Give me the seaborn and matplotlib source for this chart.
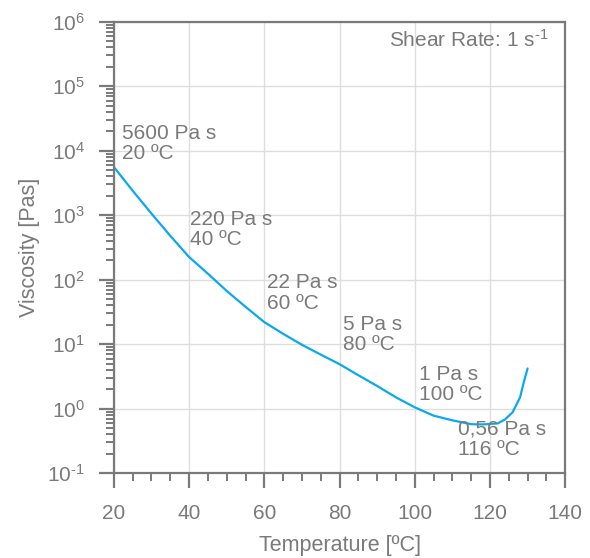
import numpy as np
import pandas as pd
import seaborn as sns
import matplotlib.pyplot as plt
from matplotlib.ticker import MultipleLocator, LogLocator, NullFormatter, FuncFormatter

# viscosity curve (shear rate 1 1/s)
temperature = [20, 25, 30, 35, 40, 45, 50, 55, 60, 65, 70, 75, 80, 85, 90, 95,
               100, 105, 110, 115, 118, 120, 122, 124, 126, 128, 129, 130]
viscosity = [5600, 2400, 1060, 480, 225, 124, 67, 38, 22, 14.5, 9.8, 6.9, 4.9,
             3.3, 2.25, 1.5, 1.05, 0.78, 0.66, 0.575, 0.57, 0.58, 0.59, 0.68,
             0.88, 1.5, 2.6, 4.2]

label_texts = ['5600 Pa s\n20 ºC', '220 Pa s\n40 ºC', '22 Pa s\n60 ºC',
               '5 Pa s\n80 ºC', '1 Pa s\n100 ºC', '0,56 Pa s\n116 ºC']
label_temps = [20, 40, 60, 80, 100, 116]
label_visc = [5600, 220, 22, 5, 1, 0.56]
# text offsets from the labelled point, in pixels
label_offsets = [(8, 43), (1, 48), (3, 49), (3, 49), (4, 44), (-17, 5)]

grey = '#7a7a7a'
blue = '#0aa9ec'
HYPHEN = '\u2010'  # short hyphen instead of the long mathtext minus

sns.set_theme(style='whitegrid')
plt.rcParams['font.family'] = ['Liberation Sans', 'DejaVu Sans']
plt.rcParams['mathtext.fontset'] = 'custom'
plt.rcParams['mathtext.rm'] = 'Liberation Sans'
plt.rcParams['mathtext.it'] = 'Liberation Sans'

df = pd.DataFrame({'Temperature': temperature, 'Viscosity': viscosity})

fig = plt.figure(figsize=(5.9, 5.58), dpi=100)
ax = fig.add_axes([0.193, 0.152, 0.765, 0.809])

sns.lineplot(data=df, x='Temperature', y='Viscosity', color=blue, linewidth=1.6, ax=ax)

ax.set_yscale('log')
ax.set_xlim(20, 140)
ax.set_ylim(1e-1, 1e6)


def pow_label(v, pos):
    exp = int(round(np.log10(v)))
    return r'$\mathregular{10^{%s}}$' % str(exp).replace('-', HYPHEN)


ax.xaxis.set_major_locator(MultipleLocator(20))
ax.xaxis.set_minor_locator(MultipleLocator(5))
ax.yaxis.set_major_locator(LogLocator(base=10, numticks=10))
ax.yaxis.set_major_formatter(FuncFormatter(pow_label))
ax.yaxis.set_minor_locator(LogLocator(base=10, subs=range(2, 10), numticks=10))
ax.yaxis.set_minor_formatter(NullFormatter())

ax.grid(True, which='major', color='#dedede', linewidth=1)
ax.grid(False, which='minor')
for s in ax.spines.values():
    s.set_color(grey)
    s.set_linewidth(1.6)
    s.set_visible(True)

ax.tick_params(axis='x', which='major', direction='out', length=11, width=1.6,
               color=grey, labelcolor=grey, labelsize=15, pad=11, bottom=True)
ax.tick_params(axis='x', which='minor', direction='out', length=5.5, width=1.4,
               color=grey, bottom=True)
ax.tick_params(axis='y', which='major', direction='out', length=11, width=1.6,
               color=grey, labelcolor=grey, labelsize=15, pad=10, left=True)
ax.tick_params(axis='y', which='minor', direction='out', length=5.5, width=1.4,
               color=grey, left=True)

ax.set_xlabel('Temperature [ºC]', color=grey, fontsize=15.5, labelpad=9)
ax.set_ylabel('Viscosity [Pas]', color=grey, fontsize=15.5, labelpad=5)

for txt, t, v, off in zip(label_texts, label_temps, label_visc, label_offsets):
    ax.annotate(txt, xy=(t, v), xytext=off, textcoords='offset pixels',
                ha='left', va='top', color=grey, fontsize=15, linespacing=1.1)

ax.text(0.962, 0.985, 'Shear Rate: 1 s$^{%s1}$' % HYPHEN, transform=ax.transAxes,
        ha='right', va='top', color=grey, fontsize=15)

fig.savefig('out.png', dpi=100)
